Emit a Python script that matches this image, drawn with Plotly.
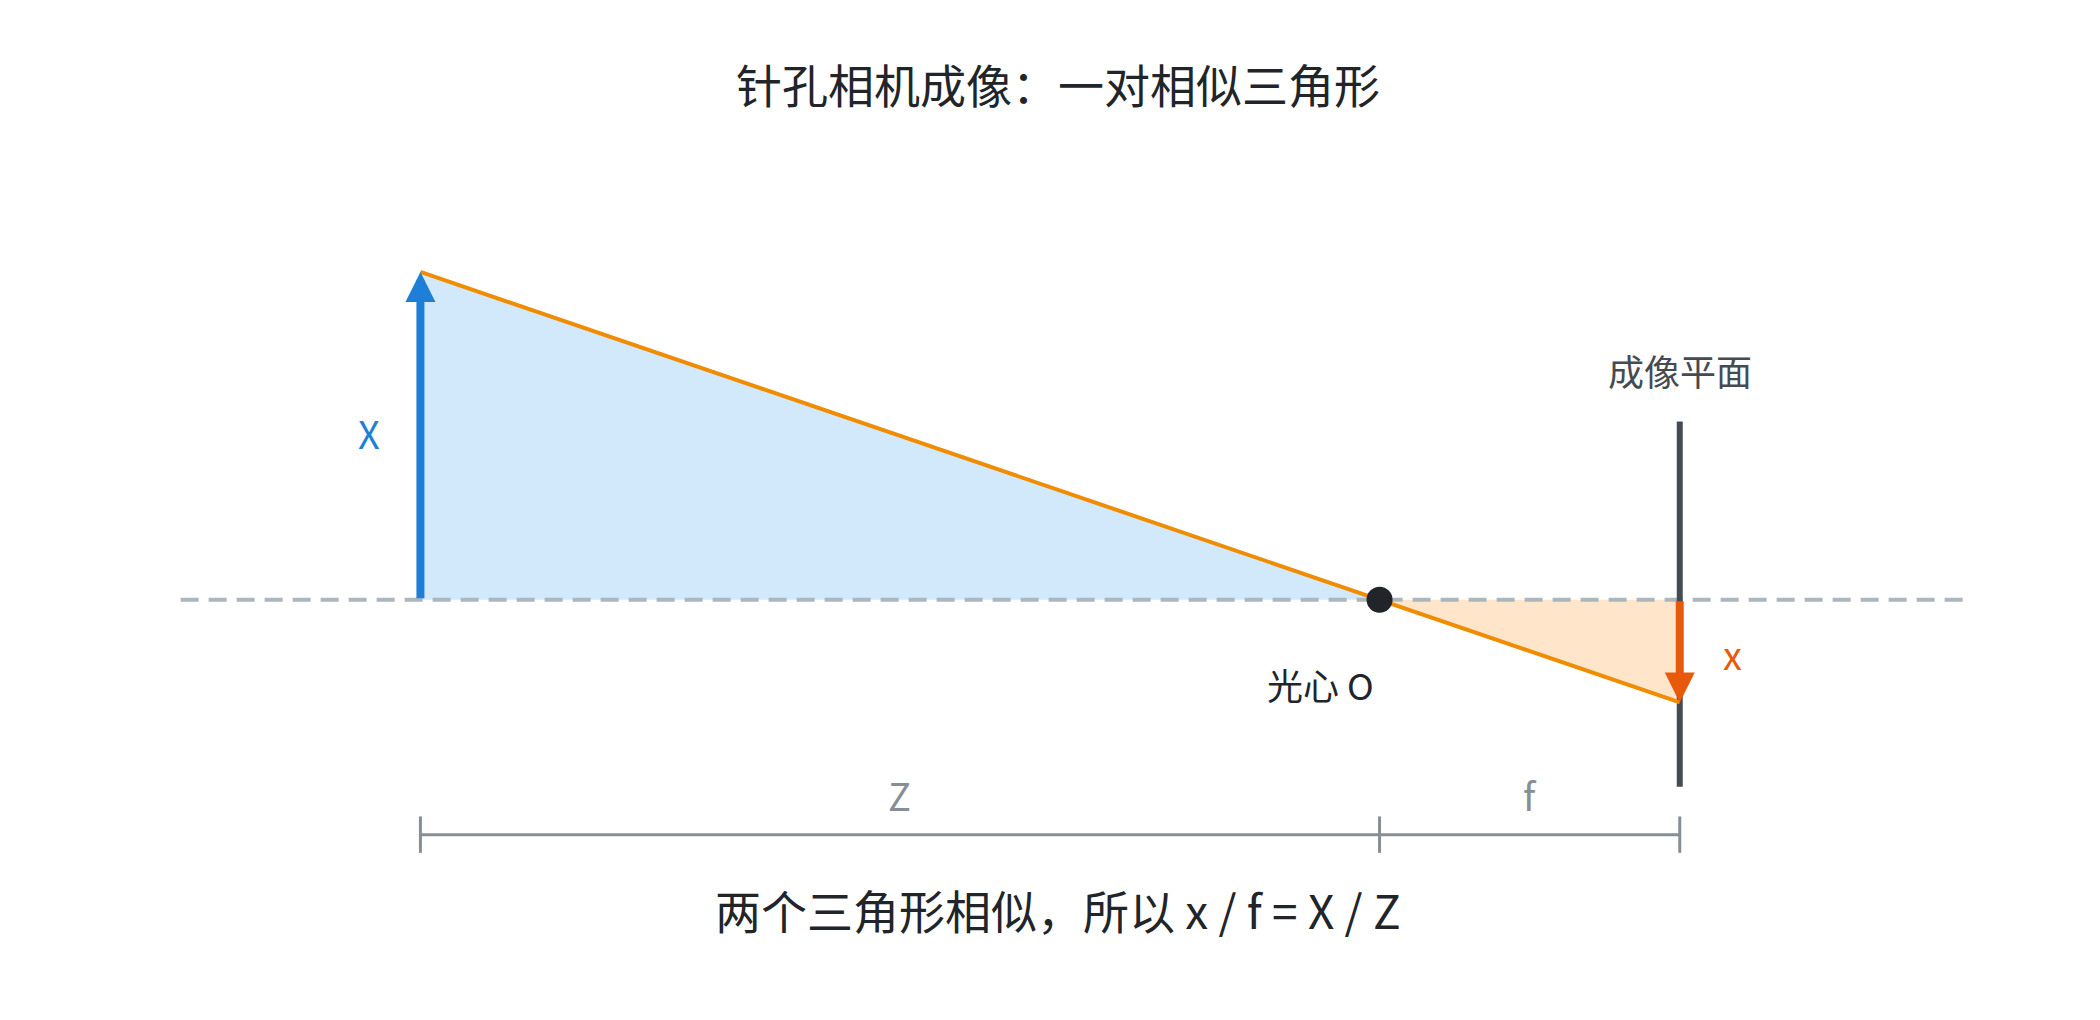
import plotly.graph_objects as go

# scene values (data units)
Z = 10.0          # object distance to pinhole
f = 3.13          # focal length
X = 3.42          # object height
x_img = X * f / Z # image height (inverted)
axis_span = [-2.5, 16.1]
plane_span = [-1.95, 1.86]
dim_y = -2.45
title = "针孔相机成像：一对相似三角形"
caption = "两个三角形相似，所以 x / f = X / Z"

FONT = "Noto Sans CJK SC, Noto Sans, sans-serif"
fig = go.Figure()
fig.add_trace(go.Scatter(x=[0, 0, Z, 0], y=[0, X, 0, 0], fill="toself", mode="none",
                         fillcolor="#d2e9fc", hoverinfo="skip"))
fig.add_trace(go.Scatter(x=[Z, Z + f, Z + f, Z], y=[0, 0, -x_img, 0], fill="toself", mode="none",
                         fillcolor="#ffe6cb", hoverinfo="skip"))
fig.add_trace(go.Scatter(x=axis_span, y=[0, 0], mode="lines",
                         line=dict(color="#adb5bd", width=4, dash="18px,10px"), hoverinfo="skip"))
fig.add_trace(go.Scatter(x=[Z + f, Z + f], y=plane_span, mode="lines",
                         line=dict(color="#454b52", width=6), hoverinfo="skip"))
fig.add_trace(go.Scatter(x=[0, Z + f], y=[X, -x_img], mode="lines",
                         line=dict(color="#f08c00", width=4), hoverinfo="skip"))
fig.add_trace(go.Scatter(x=[0, Z + f], y=[dim_y, dim_y], mode="lines",
                         line=dict(color="#868e96", width=3), hoverinfo="skip"))
for tx in [0, Z, Z + f]:
    fig.add_trace(go.Scatter(x=[tx, tx], y=[dim_y - 0.19, dim_y + 0.19], mode="lines",
                             line=dict(color="#868e96", width=3), hoverinfo="skip"))
fig.add_trace(go.Scatter(x=[Z], y=[0], mode="markers",
                         marker=dict(color="#212529", size=26), hoverinfo="skip"))

fig.add_annotation(x=0, y=X, ax=0, ay=0, xref="x", yref="y", axref="x", ayref="y",
                   showarrow=True, arrowhead=2, arrowsize=0.75, arrowwidth=8,
                   arrowcolor="#1f7fd6", text="")
fig.add_annotation(x=Z + f, y=-x_img, ax=Z + f, ay=0, xref="x", yref="y", axref="x", ayref="y",
                   showarrow=True, arrowhead=2, arrowsize=0.75, arrowwidth=8,
                   arrowcolor="#e8590c", text="")

def label(xx, yy, t, color, size=38):
    fig.add_annotation(x=xx, y=yy, text=t, showarrow=False, xref="x", yref="y",
                       font=dict(family=FONT, size=size, color=color))

label(-0.54, 1.75, "X", "#1f7fd6")
label(Z + f + 0.55, -0.56, "x", "#e8590c")
label(Z - 0.62, -0.88, "光心 O", "#212529", 36)
label(Z + f, 2.4, "成像平面", "#454b52", 36)
label(5.0, -2.03, "Z", "#868e96")
label(Z + 1.57, -2.03, "f", "#868e96")

fig.update_layout(
    width=2100, height=1020, margin=dict(l=0, r=0, t=0, b=0),
    plot_bgcolor="white", paper_bgcolor="white", showlegend=False,
    title=dict(text=title, x=0.5, y=0.923, xanchor="center", yanchor="middle",
               font=dict(family=FONT, size=46, color="#212529")),
    xaxis=dict(range=[-4.30, 17.595], visible=False, fixedrange=True),
    yaxis=dict(range=[-4.467, 6.173], visible=False, fixedrange=True),
)
fig.add_annotation(x=0.5, y=0.082, xref="paper", yref="paper", text=caption, showarrow=False,
                   font=dict(family=FONT, size=46, color="#212529"))
fig.write_html("out.html")
